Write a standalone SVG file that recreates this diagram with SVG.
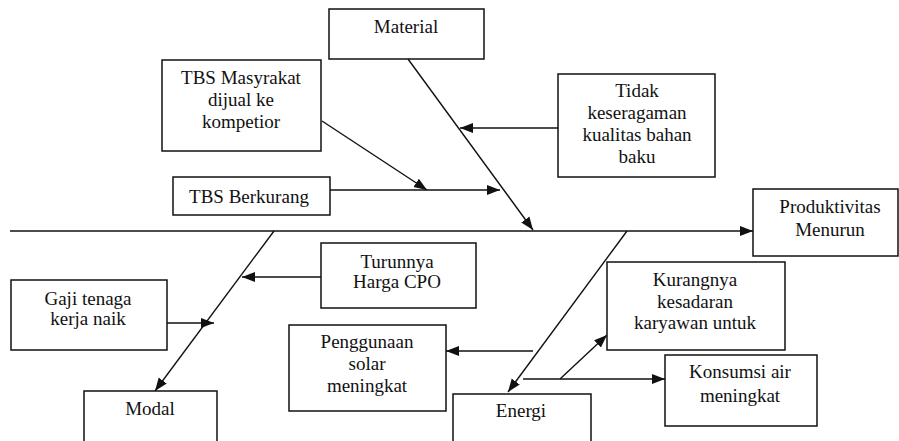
<svg xmlns="http://www.w3.org/2000/svg" width="899" height="441" viewBox="0 0 899 441" font-family="'Liberation Serif', 'Times New Roman', Times, 'DejaVu Serif', serif">
<style>
.box{fill:#fff;stroke:#111;stroke-width:1.5}
.t{font-family:'Liberation Serif','Times New Roman',Times,'DejaVu Serif',serif;font-size:19px;fill:#111;text-anchor:middle}
.c{stroke:#111;stroke-width:1.4;fill:none;marker-end:url(#ah)}
</style>
<defs>
<marker id="ah" markerUnits="userSpaceOnUse" markerWidth="14" markerHeight="12" refX="13" refY="5" orient="auto" viewBox="0 0 14 10">
<path d="M0,0 L13,5 L0,10 Z" fill="#111"/>
</marker>
</defs>
<rect width="899" height="441" fill="#fff"/>
<g id="connectors">
<line class="c" x1="10" y1="231" x2="753" y2="231"/>
<line class="c" x1="408" y1="59" x2="533" y2="230"/>
<line class="c" x1="558" y1="128" x2="460" y2="128"/>
<line class="c" x1="322" y1="121" x2="427" y2="190"/>
<line class="c" x1="330" y1="190" x2="500" y2="190"/>
<line class="c" x1="274" y1="231" x2="155" y2="391"/>
<line class="c" x1="321" y1="277" x2="242" y2="277"/>
<line class="c" x1="167" y1="323" x2="214" y2="323"/>
<line class="c" x1="627" y1="231" x2="508" y2="392"/>
<line class="c" x1="533" y1="351" x2="446" y2="351"/>
<line class="c" x1="523" y1="379" x2="665" y2="379"/>
<line class="c" x1="560" y1="379" x2="607" y2="335"/>
</g>
<g id="material">
<rect class="box" x="329" y="9" width="155" height="50"/>
<text class="t" x="406" y="33">Material</text>
</g>
<g id="tbs-masyrakat">
<rect class="box" x="162" y="60" width="159" height="91"/>
<text class="t" x="241" y="84">TBS Masyrakat</text>
<text class="t" x="241" y="106">dijual ke</text>
<text class="t" x="241" y="128">kompetior</text>
</g>
<g id="tbs-berkurang">
<rect class="box" x="173" y="177" width="157" height="38"/>
<text class="t" x="249" y="203">TBS Berkurang</text>
</g>
<g id="tidak-keseragaman">
<rect class="box" x="558" y="74" width="157" height="103"/>
<text class="t" x="637" y="97">Tidak</text>
<text class="t" x="637" y="119">keseragaman</text>
<text class="t" x="637" y="141">kualitas bahan</text>
<text class="t" x="637" y="163">baku</text>
</g>
<g id="produktivitas">
<rect class="box" x="753" y="189" width="145" height="67"/>
<text class="t" x="830" y="213">Produktivitas</text>
<text class="t" x="830" y="236">Menurun</text>
</g>
<g id="turunnya">
<rect class="box" x="321" y="243" width="155" height="65"/>
<text class="t" x="397" y="268">Turunnya</text>
<text class="t" x="397" y="288">Harga CPO</text>
</g>
<g id="gaji">
<rect class="box" x="11" y="280" width="156" height="70"/>
<text class="t" x="88" y="305">Gaji tenaga</text>
<text class="t" x="88" y="325">kerja naik</text>
</g>
<g id="modal">
<rect class="box" x="84" y="391" width="133" height="60"/>
<text class="t" x="150" y="415">Modal</text>
</g>
<g id="penggunaan">
<rect class="box" x="289" y="325" width="157" height="86"/>
<text class="t" x="367" y="348">Penggunaan</text>
<text class="t" x="367" y="370">solar</text>
<text class="t" x="367" y="392">meningkat</text>
</g>
<g id="kurangnya">
<rect class="box" x="607" y="262" width="178" height="88"/>
<text class="t" x="695" y="286">Kurangnya</text>
<text class="t" x="695" y="308">kesadaran</text>
<text class="t" x="695" y="329">karyawan untuk</text>
</g>
<g id="konsumsi">
<rect class="box" x="665" y="355" width="152" height="71"/>
<text class="t" x="740" y="378">Konsumsi air</text>
<text class="t" x="740" y="402">meningkat</text>
</g>
<g id="energi">
<rect class="box" x="453" y="394" width="138" height="60"/>
<text class="t" x="521" y="417">Energi</text>
</g>
</svg>
